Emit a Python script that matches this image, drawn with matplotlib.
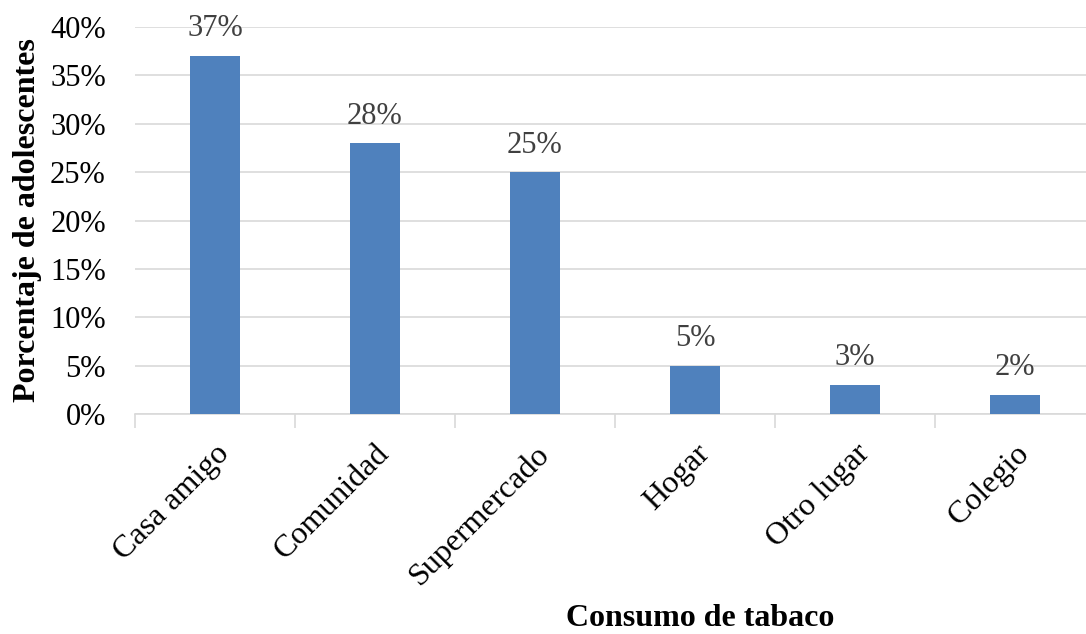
import matplotlib
matplotlib.use("Agg")
import matplotlib.pyplot as plt
import matplotlib.transforms as mtransforms
import numpy as np

categorias = ["Casa amigo", "Comunidad", "Supermercado", "Hogar", "Otro lugar", "Colegio"]
porcentajes = [37, 28, 25, 5, 3, 2]
etiquetas_y = ["0%", "5%", "10%", "15%", "20%", "25%", "30%", "35%", "40%"]

plt.rcParams['font.family'] = ['Liberation Serif', 'DejaVu Serif']

fig = plt.figure(figsize=(10.86, 6.34), dpi=100)
ax = fig.add_axes([135/1086, 1 - 414/634, 951/1086, 387/634])

x = np.arange(len(categorias))
ax.bar(x, porcentajes, width=0.3125, color="#4F81BD", zorder=3)

for xi, v in zip(x, porcentajes):
    ax.text(xi, v + 1.3, f"{v}%", ha="center", va="bottom", fontsize=22, color="#404040")

ax.set_xlim(-0.5, 5.444)
ax.set_ylim(0, 40)
ax.set_yticks(np.arange(0, 41, 5))
ax.set_yticklabels(etiquetas_y, fontsize=22)
ax.yaxis.grid(True, color="#D9D9D9", linewidth=1.2, zorder=0)
ax.tick_params(axis="y", length=0, pad=21)

ax.set_xticks(x)
ax.set_xticklabels(categorias, rotation=45, ha="right", rotation_mode="anchor", fontsize=23)
# desplazar un poco las etiquetas a la izquierda
desplazamiento = mtransforms.ScaledTranslation(-6/100, 0, fig.dpi_scale_trans)
for lbl in ax.get_xticklabels():
    lbl.set_transform(lbl.get_transform() + desplazamiento)
ax.set_xticks(np.arange(-0.5, 5.5, 1), minor=True)
ax.tick_params(axis="x", which="major", length=0, pad=18)
ax.tick_params(axis="x", which="minor", length=10, color="#D9D9D9", width=1.2)

for lado in ["left", "right", "top"]:
    ax.spines[lado].set_visible(False)
ax.spines["bottom"].set_color("#D9D9D9")
ax.spines["bottom"].set_linewidth(1.2)

fig.text(28/1086, 1 - 220/634, "Porcentaje de adolescentes", rotation=90, ha="center", va="center",
         fontsize=23, fontweight="bold")
fig.text(700/1086, 1 - 619/634, "Consumo de tabaco", ha="center", va="center",
         fontsize=23, fontweight="bold")

fig.savefig("out.png", dpi=100)
